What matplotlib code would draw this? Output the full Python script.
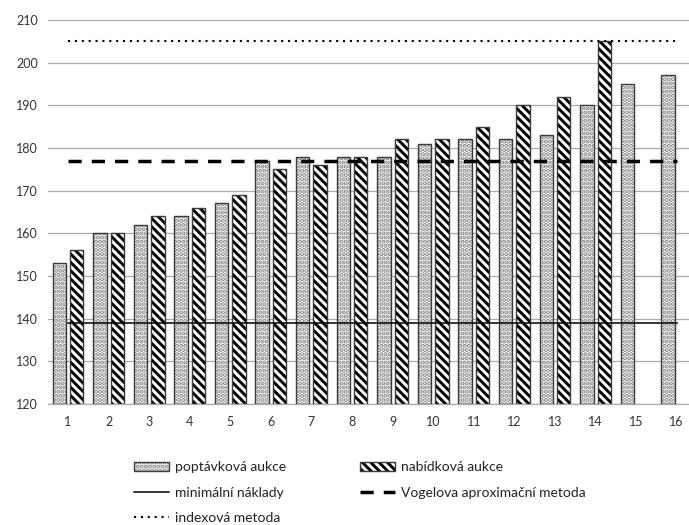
import numpy as np
import matplotlib
matplotlib.use("Agg")
import matplotlib.pyplot as plt
from matplotlib.patches import Patch
from matplotlib.lines import Line2D
from matplotlib.legend_handler import HandlerTuple

plt.rcParams['font.family'] = ['Lato', 'DejaVu Sans']
plt.rcParams['hatch.linewidth'] = 2.1

# Data
categories = list(range(1, 17))
poptavkova = [153, 160, 162, 164, 167, 177, 178, 178, 178, 181, 182, 182, 183, 190, 195, 197]
nabidkova = [156, 160, 164, 166, 169, 175, 176, 178, 182, 182, 185, 190, 192, 205]
minimalni_naklady = 139
vogel = 177
indexova = 205
y_ticks = list(range(120, 211, 10))

label_popt = "poptávková aukce"
label_nab = "nabídková aukce"
label_min = "minimální náklady"
label_vogel = "Vogelova aproximační metoda"
label_index = "indexová metoda"

fig = plt.figure(figsize=(6.89, 5.25), dpi=100)
ax = fig.add_axes([0.0692, 0.2305, 0.9424, 0.7314])

x = np.array(categories, dtype=float)
bw = 0.33
off = 0.215
edge = '#3a3a3a'
grid_c = '#ababab'
dot_c = '#808080'
dot_hatch = '....'
stripe_hatch = '\\\\\\\\'

# Dotted bars: hatch layer + outline layer
xp = x - off
ax.bar(xp, np.array(poptavkova) - 120, bottom=120, width=bw, color='white',
       edgecolor=dot_c, linewidth=0, hatch=dot_hatch, zorder=2)
ax.bar(xp, np.array(poptavkova) - 120, bottom=120, width=bw, fill=False,
       edgecolor=edge, linewidth=1.0, zorder=3)

# Striped bars
xn = x[:len(nabidkova)] + off
ax.bar(xn, np.array(nabidkova) - 120, bottom=120, width=bw, color='white',
       edgecolor='black', linewidth=0, hatch=stripe_hatch, zorder=2)
ax.bar(xn, np.array(nabidkova) - 120, bottom=120, width=bw, fill=False,
       edgecolor=edge, linewidth=1.0, zorder=3)

# Reference lines across categories
xl = [categories[0], categories[-1]]
ax.plot(xl, [minimalni_naklady] * 2, color='black', lw=1.1, zorder=4)
ax.plot(xl, [vogel] * 2, color='black', lw=2.5, dashes=(3.8, 2.9),
        dash_capstyle='butt', zorder=4)
ax.plot(xl, [indexova] * 2, color='black', lw=1.5, dashes=(1.0, 2.3),
        dash_capstyle='butt', zorder=4)

ax.set_xlim(0.5, 16.5)
ax.set_ylim(120, 210)
ax.set_yticks(y_ticks)
ax.set_xticks(categories)
ax.set_xticklabels([str(c) for c in categories])
ax.tick_params(length=0, labelsize=9, colors='#333333', pad=7)
ax.tick_params(axis='x', pad=9)
ax.yaxis.grid(True, color=grid_c, lw=0.9, zorder=0)
ax.set_axisbelow(True)
for s in ['top', 'right', 'left']:
    ax.spines[s].set_visible(False)
ax.spines['bottom'].set_color(grid_c)
ax.spines['bottom'].set_linewidth(0.9)

# Legend
h_popt = (Patch(facecolor='white', edgecolor=dot_c, lw=0, hatch=dot_hatch),
          Patch(fill=False, edgecolor=edge, lw=1.0))
h_nab = (Patch(facecolor='white', edgecolor='black', lw=0, hatch=stripe_hatch),
         Patch(fill=False, edgecolor=edge, lw=1.0))
h_min = Line2D([], [], color='black', lw=1.1)
h_vogel = Line2D([], [], color='black', lw=2.5, dashes=(3.8, 2.9), dash_capstyle='butt')
h_index = Line2D([], [], color='black', lw=1.5, dashes=(1.0, 2.3), dash_capstyle='butt')

handles = [h_popt, h_min, h_index, h_nab, h_vogel]
labels = [label_popt, label_min, label_index, label_nab, label_vogel]
leg = fig.legend(handles, labels, ncol=2, loc='upper left',
                 bbox_to_anchor=(0.195, 0.121), frameon=False,
                 fontsize=10, handlelength=2.5, handleheight=0.7,
                 handletextpad=0.45, columnspacing=5.3, labelspacing=0.95,
                 borderpad=0, borderaxespad=0,
                 handler_map={tuple: HandlerTuple(ndivide=1, pad=0)})
for t in leg.get_texts():
    t.set_color('#222222')

fig.savefig('out.png', dpi=100)
